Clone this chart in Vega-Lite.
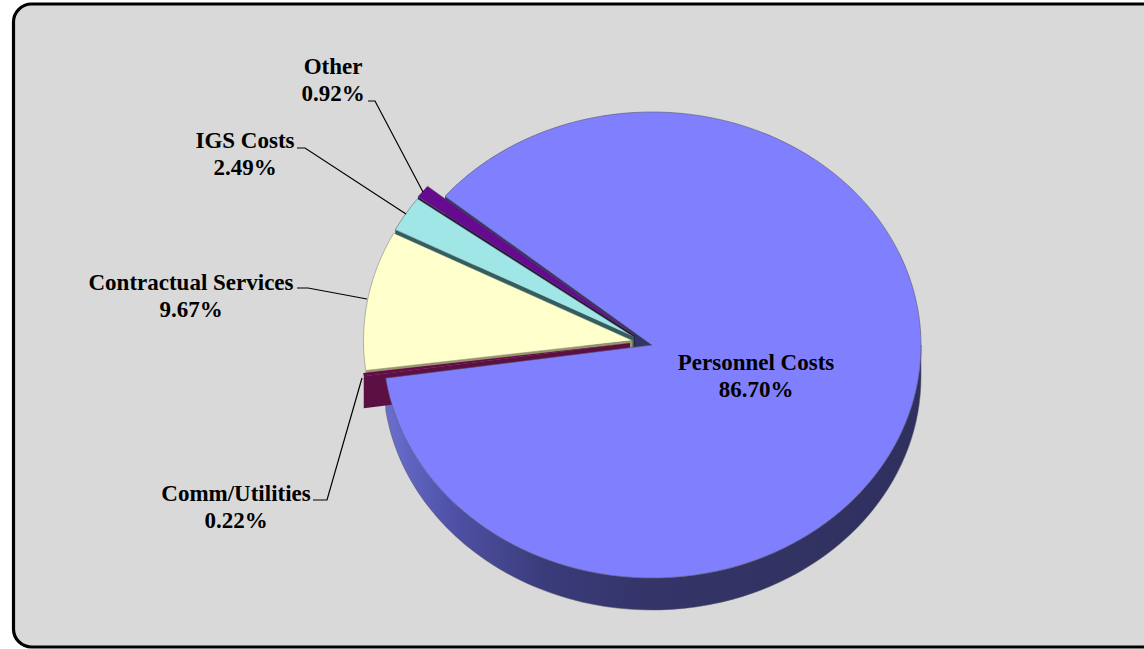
{
  "$schema": "https://vega.github.io/schema/vega-lite/v6.json",
  "width": 1144,
  "height": 649,
  "padding": 0,
  "autosize": "none",
  "background": "#ffffff",
  "config": {"view": {"stroke": null}},
  "data": {"values": [
    {"slice": "Personnel Costs", "pct": 86.70},
    {"slice": "Comm/Utilities", "pct": 0.22},
    {"slice": "Contractual Services", "pct": 9.67},
    {"slice": "IGS Costs", "pct": 2.49},
    {"slice": "Other", "pct": 0.92}
  ]},
  "transform": [
    {"window": [{"op": "sum", "field": "pct", "as": "cum"}]},
    {"calculate": "(309.7 + 3.6 * (datum.cum - datum.pct)) * PI / 180", "as": "a0"},
    {"calculate": "(309.7 + 3.6 * datum.cum) * PI / 180", "as": "a1"},
    {"calculate": "{'Personnel Costs':652,'Comm/Utilities':630,'Contractual Services':632.5,'IGS Costs':634,'Other':634.5}[datum.slice]", "as": "cx"},
    {"calculate": "{'Personnel Costs':345,'Comm/Utilities':343,'Contractual Services':340.5,'IGS Costs':337,'Other':335}[datum.slice]", "as": "cy"},
    {"calculate": "269 * sin(datum.a0)", "as": "p0x"},
    {"calculate": "-233 * cos(datum.a0)", "as": "p0y"},
    {"calculate": "269 * sin(datum.a1)", "as": "p1x"},
    {"calculate": "-233 * cos(datum.a1)", "as": "p1y"},
    {"calculate": "'M0,0L' + datum.p0x + ',' + datum.p0y + 'A269,233,0,' + (datum.a1 - datum.a0 > PI ? 1 : 0) + ',1,' + datum.p1x + ',' + datum.p1y + 'Z'", "as": "topPath"},
    {"calculate": "'M0,0L' + datum.p0x + ',' + datum.p0y + 'L' + datum.p0x + ',' + (datum.p0y + 32) + 'L0,32Z'", "as": "cutPath"},
    {"calculate": "'M269,0A269,233,0,0,1,' + datum.p1x + ',' + datum.p1y + 'L' + datum.p1x + ',' + (datum.p1y + 32) + 'A269,233,0,0,0,269,32Z'", "as": "rimPath"},
    {"calculate": "{'Comm/Utilities':'M313,500L327,500L362,378','Contractual Services':'M297,288L308,288L367,299','IGS Costs':'M297,148L305,148L406,214','Other':'M368,101L375,101L423,192','Personnel Costs':'M0,0'}[datum.slice]", "as": "leaderPath"},
    {"calculate": "{'Personnel Costs':756,'Comm/Utilities':236,'Contractual Services':191,'IGS Costs':245,'Other':333}[datum.slice]", "as": "lx"},
    {"calculate": "{'Personnel Costs':363,'Comm/Utilities':494,'Contractual Services':283,'IGS Costs':141,'Other':67}[datum.slice]", "as": "ly"},
    {"calculate": "[datum.slice, format(datum.pct, '.2f') + '%']", "as": "lines"}
  ],
  "encoding": {
    "x": {"field": "cx", "type": "quantitative", "axis": null, "scale": {"domain": [0, 1144], "nice": false, "zero": false}},
    "y": {"field": "cy", "type": "quantitative", "axis": null, "scale": {"domain": [649, 0], "nice": false, "zero": false}}
  },
  "layer": [
    {
      "description": "Rounded panel behind the pie",
      "transform": [{"filter": "datum.slice === 'Personnel Costs'"}],
      "mark": {"type": "rect", "fill": "#d9d9d9", "stroke": "#000000", "strokeWidth": 3.2, "cornerRadius": 18},
      "encoding": {
        "x": {"datum": 13.5, "type": "quantitative", "axis": null, "scale": {"domain": [0, 1144], "nice": false, "zero": false}},
        "x2": {"datum": 1170},
        "y": {"datum": 4, "type": "quantitative", "axis": null, "scale": {"domain": [649, 0], "nice": false, "zero": false}},
        "y2": {"datum": 647}
      }
    },
    {
      "description": "Outer wall of the large slice",
      "transform": [{"filter": "datum.slice === 'Personnel Costs'"}],
      "mark": {"type": "point", "filled": true, "opacity": 1, "size": 4, "stroke": "#555566", "strokeWidth": 0.5,
        "fill": {"gradient": "linear", "x1": 0, "y1": 0, "x2": 1, "y2": 0, "stops": [
          {"offset": 0, "color": "#6a6fd0"},
          {"offset": 0.12, "color": "#4f52a6"},
          {"offset": 0.3, "color": "#3a3b7a"},
          {"offset": 0.5, "color": "#343468"},
          {"offset": 1, "color": "#30305f"}
        ]}},
      "encoding": {"shape": {"field": "rimPath", "type": "nominal", "scale": null}}
    },
    {
      "description": "Cut face of the large slice",
      "transform": [{"filter": "datum.slice === 'Personnel Costs'"}],
      "mark": {"type": "point", "filled": true, "opacity": 1, "size": 4, "fill": "#333366", "strokeWidth": 0},
      "encoding": {"shape": {"field": "cutPath", "type": "nominal", "scale": null}}
    },
    {
      "transform": [{"filter": "datum.slice === 'Other'"}],
      "mark": {"type": "point", "filled": true, "opacity": 1, "size": 4, "fill": "#24123c", "strokeWidth": 0},
      "encoding": {"shape": {"field": "cutPath", "type": "nominal", "scale": null}}
    },
    {
      "transform": [{"filter": "datum.slice === 'Other'"}],
      "mark": {"type": "point", "filled": true, "opacity": 1, "size": 4, "stroke": "#555555", "strokeWidth": 0.5},
      "encoding": {
        "shape": {"field": "topPath", "type": "nominal", "scale": null},
        "color": {"field": "slice", "type": "nominal", "legend": null, "scale": {"domain": ["Personnel Costs", "Comm/Utilities", "Contractual Services", "IGS Costs", "Other"], "range": ["#8080ff", "#660a4a", "#ffffcc", "#a0e6e6", "#660a8f"]}}
      }
    },
    {
      "transform": [{"filter": "datum.slice === 'IGS Costs'"}],
      "mark": {"type": "point", "filled": true, "opacity": 1, "size": 4, "fill": "#2f5f5f", "strokeWidth": 0},
      "encoding": {"shape": {"field": "cutPath", "type": "nominal", "scale": null}}
    },
    {
      "transform": [{"filter": "datum.slice === 'IGS Costs'"}],
      "mark": {"type": "point", "filled": true, "opacity": 1, "size": 4, "stroke": "#555555", "strokeWidth": 0.5},
      "encoding": {
        "shape": {"field": "topPath", "type": "nominal", "scale": null},
        "color": {"field": "slice", "type": "nominal", "legend": null, "scale": {"domain": ["Personnel Costs", "Comm/Utilities", "Contractual Services", "IGS Costs", "Other"], "range": ["#8080ff", "#660a4a", "#ffffcc", "#a0e6e6", "#660a8f"]}}
      }
    },
    {
      "transform": [{"filter": "datum.slice === 'Contractual Services'"}],
      "mark": {"type": "point", "filled": true, "opacity": 1, "size": 4, "fill": "#99966a", "strokeWidth": 0},
      "encoding": {"shape": {"field": "cutPath", "type": "nominal", "scale": null}}
    },
    {
      "transform": [{"filter": "datum.slice === 'Contractual Services'"}],
      "mark": {"type": "point", "filled": true, "opacity": 1, "size": 4, "stroke": "#777777", "strokeWidth": 0.5},
      "encoding": {
        "shape": {"field": "topPath", "type": "nominal", "scale": null},
        "color": {"field": "slice", "type": "nominal", "legend": null, "scale": {"domain": ["Personnel Costs", "Comm/Utilities", "Contractual Services", "IGS Costs", "Other"], "range": ["#8080ff", "#660a4a", "#ffffcc", "#a0e6e6", "#660a8f"]}}
      }
    },
    {
      "transform": [{"filter": "datum.slice === 'Comm/Utilities'"}],
      "mark": {"type": "point", "filled": true, "opacity": 1, "size": 4, "fill": "#5c0f42", "strokeWidth": 0},
      "encoding": {"shape": {"field": "cutPath", "type": "nominal", "scale": null}}
    },
    {
      "transform": [{"filter": "datum.slice === 'Comm/Utilities'"}],
      "mark": {"type": "point", "filled": true, "opacity": 1, "size": 4, "strokeWidth": 0},
      "encoding": {
        "shape": {"field": "topPath", "type": "nominal", "scale": null},
        "color": {"field": "slice", "type": "nominal", "legend": null, "scale": {"domain": ["Personnel Costs", "Comm/Utilities", "Contractual Services", "IGS Costs", "Other"], "range": ["#8080ff", "#660a4a", "#ffffcc", "#a0e6e6", "#660a8f"]}}
      }
    },
    {
      "description": "Top face of the large slice, painted over the neighbouring walls",
      "transform": [{"filter": "datum.slice === 'Personnel Costs'"}],
      "mark": {"type": "point", "filled": true, "opacity": 1, "size": 4, "stroke": "#555577", "strokeWidth": 0.6},
      "encoding": {
        "shape": {"field": "topPath", "type": "nominal", "scale": null},
        "color": {"field": "slice", "type": "nominal", "legend": null, "scale": {"domain": ["Personnel Costs", "Comm/Utilities", "Contractual Services", "IGS Costs", "Other"], "range": ["#8080ff", "#660a4a", "#ffffcc", "#a0e6e6", "#660a8f"]}}
      }
    },
    {
      "description": "Leader lines from the outside labels",
      "transform": [{"filter": "datum.slice !== 'Personnel Costs'"}],
      "mark": {"type": "point", "filled": false, "opacity": 1, "size": 4, "stroke": "#000000", "strokeWidth": 1.2, "fill": null},
      "encoding": {
        "x": {"datum": 0, "type": "quantitative", "axis": null, "scale": {"domain": [0, 1144], "nice": false, "zero": false}},
        "y": {"datum": 0, "type": "quantitative", "axis": null, "scale": {"domain": [649, 0], "nice": false, "zero": false}},
        "shape": {"field": "leaderPath", "type": "nominal", "scale": null}
      }
    },
    {
      "description": "Slice name and share",
      "mark": {"type": "text", "font": "Liberation Serif", "fontWeight": "bold", "fontSize": 23, "lineHeight": 27, "align": "center", "baseline": "middle", "color": "#000000"},
      "encoding": {
        "x": {"field": "lx", "type": "quantitative", "axis": null, "scale": {"domain": [0, 1144], "nice": false, "zero": false}},
        "y": {"field": "ly", "type": "quantitative", "axis": null, "scale": {"domain": [649, 0], "nice": false, "zero": false}},
        "text": {"field": "lines"}
      }
    }
  ]
}
